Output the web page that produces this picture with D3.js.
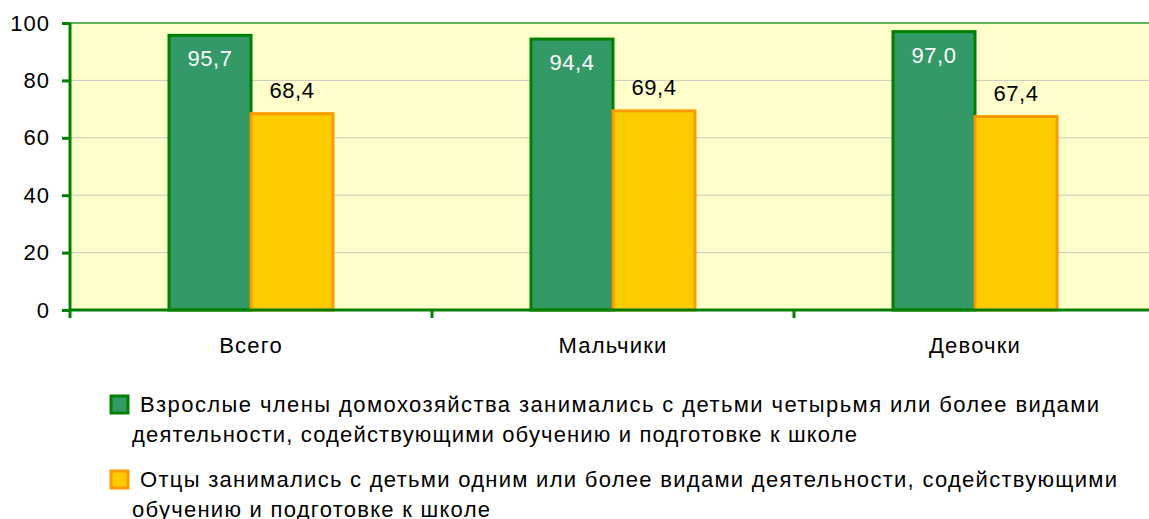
<!doctype html>
<html>
<head>
<meta charset="utf-8">
<script src="https://d3js.org/d3.v7.min.js"></script>
<style>
  body { margin: 0; background: #fff; }
  text { font-family: "Liberation Sans", Arial, sans-serif; }
</style>
</head>
<body>
<svg id="chart" width="1149" height="519"></svg>
<script>
// chart data
const categories = ["Всего", "Мальчики", "Девочки"];
const adults = [95.7, 94.4, 97.0];
const fathers = [68.4, 69.4, 67.4];
const yTicks = [0, 20, 40, 60, 80, 100];
const legendLines = [
  ["Взрослые члены домохозяйства занимались с детьми четырьмя или более видами",
   "деятельности, содействующими обучению и подготовке к школе"],
  ["Отцы занимались с детьми одним или более видами деятельности, содействующими",
   "обучению и подготовке к школе"]
];
// measured widths of the legend lines in the original
const legendWidths = [[959, 725], [977, 358]];

const svg = d3.select("#chart");
const plotLeft = 70, plotRight = 1157, plotTop = 23, plotBottom = 310;
const fs = 22;

const x = d3.scaleBand().domain(categories).range([plotLeft, plotLeft + 362 * 3]);
const y = d3.scaleLinear().domain([0, 100]).range([plotBottom, plotTop]);

// plot background
svg.append("rect")
  .attr("x", plotLeft).attr("y", plotTop)
  .attr("width", plotRight - plotLeft).attr("height", plotBottom - plotTop)
  .attr("fill", "#ffffcc");

// gridlines
svg.append("g")
  .selectAll("line")
  .data(yTicks.filter(d => d > 0 && d < 100))
  .join("line")
  .attr("x1", plotLeft).attr("x2", plotRight)
  .attr("y1", d => y(d)).attr("y2", d => y(d))
  .attr("stroke", "#c8c8c0").attr("stroke-width", 1);

// top border
svg.append("line")
  .attr("x1", plotLeft).attr("x2", plotRight)
  .attr("y1", y(100)).attr("y2", y(100))
  .attr("stroke", "#2e9a2e").attr("stroke-width", 1.5);

const barW = 82;
const series = [
  { values: adults, fill: "#339966", stroke: "#008000", offset: -barW },
  { values: fathers, fill: "#ffcc00", stroke: "#ff9900", offset: 0 }
];

series.forEach(s => {
  svg.append("g")
    .selectAll("rect")
    .data(categories)
    .join("rect")
    .attr("x", d => x(d) + x.bandwidth() / 2 + s.offset)
    .attr("y", (d, i) => y(s.values[i]))
    .attr("width", barW)
    .attr("height", (d, i) => plotBottom - y(s.values[i]))
    .attr("fill", s.fill)
    .attr("stroke", s.stroke)
    .attr("stroke-width", 3);
});

// value labels
const fmt = v => v.toFixed(1).replace(".", ",");
svg.append("g")
  .selectAll("text")
  .data(categories)
  .join("text")
  .attr("x", d => x(d) + x.bandwidth() / 2 - barW / 2)
  .attr("y", (d, i) => y(adults[i]) + 31)
  .attr("text-anchor", "middle")
  .attr("font-size", fs)
  .attr("letter-spacing", 0.5)
  .attr("fill", "#ffffff")
  .text((d, i) => fmt(adults[i]));

svg.append("g")
  .selectAll("text")
  .data(categories)
  .join("text")
  .attr("x", d => x(d) + x.bandwidth() / 2 + barW / 2)
  .attr("y", (d, i) => y(fathers[i]) - 16)
  .attr("text-anchor", "middle")
  .attr("font-size", fs)
  .attr("letter-spacing", 0.5)
  .attr("fill", "#000")
  .text((d, i) => fmt(fathers[i]));

// y axis
const yAxis = svg.append("g")
  .attr("transform", `translate(${plotLeft},0)`)
  .call(d3.axisLeft(y).tickValues(yTicks).tickSize(8).tickPadding(12));
yAxis.select(".domain").attr("stroke", "#008000").attr("stroke-width", 3)
  .attr("d", `M0,${plotTop}V${plotBottom + 8}`);
yAxis.selectAll(".tick line").attr("stroke", "#008000").attr("stroke-width", 3);
yAxis.selectAll(".tick text").attr("font-size", fs).attr("fill", "#000")
  .attr("letter-spacing", 1);

// x axis
const xAxis = svg.append("g")
  .attr("transform", `translate(0,${plotBottom})`)
  .call(d3.axisBottom(x).tickSize(0).tickPadding(27));
xAxis.select(".domain").attr("stroke", "#008000").attr("stroke-width", 3)
  .attr("d", `M${plotLeft},0H${plotRight}`);
xAxis.selectAll(".tick text").attr("font-size", fs).attr("fill", "#000")
  .attr("letter-spacing", 1.2);
// category separators
svg.append("g")
  .selectAll("line")
  .data(categories.slice(1))
  .join("line")
  .attr("x1", d => x(d)).attr("x2", d => x(d))
  .attr("y1", plotBottom).attr("y2", plotBottom + 8)
  .attr("stroke", "#008000").attr("stroke-width", 3);

// legend
const legend = svg.append("g");
series.forEach((s, i) => {
  const ly = 395 + i * 75;
  legend.append("rect")
    .attr("x", 111).attr("y", ly + 1)
    .attr("width", 17).attr("height", 17)
    .attr("fill", s.fill).attr("stroke", s.stroke).attr("stroke-width", 3);
  legend.append("text")
    .attr("x", 140).attr("y", ly + 17)
    .attr("font-size", fs).attr("fill", "#000")
    .attr("textLength", legendWidths[i][0]).attr("lengthAdjust", "spacing")
    .text(legendLines[i][0]);
  legend.append("text")
    .attr("x", 132).attr("y", ly + 47)
    .attr("font-size", fs).attr("fill", "#000")
    .attr("textLength", legendWidths[i][1]).attr("lengthAdjust", "spacing")
    .text(legendLines[i][1]);
});
</script>
</body>
</html>
